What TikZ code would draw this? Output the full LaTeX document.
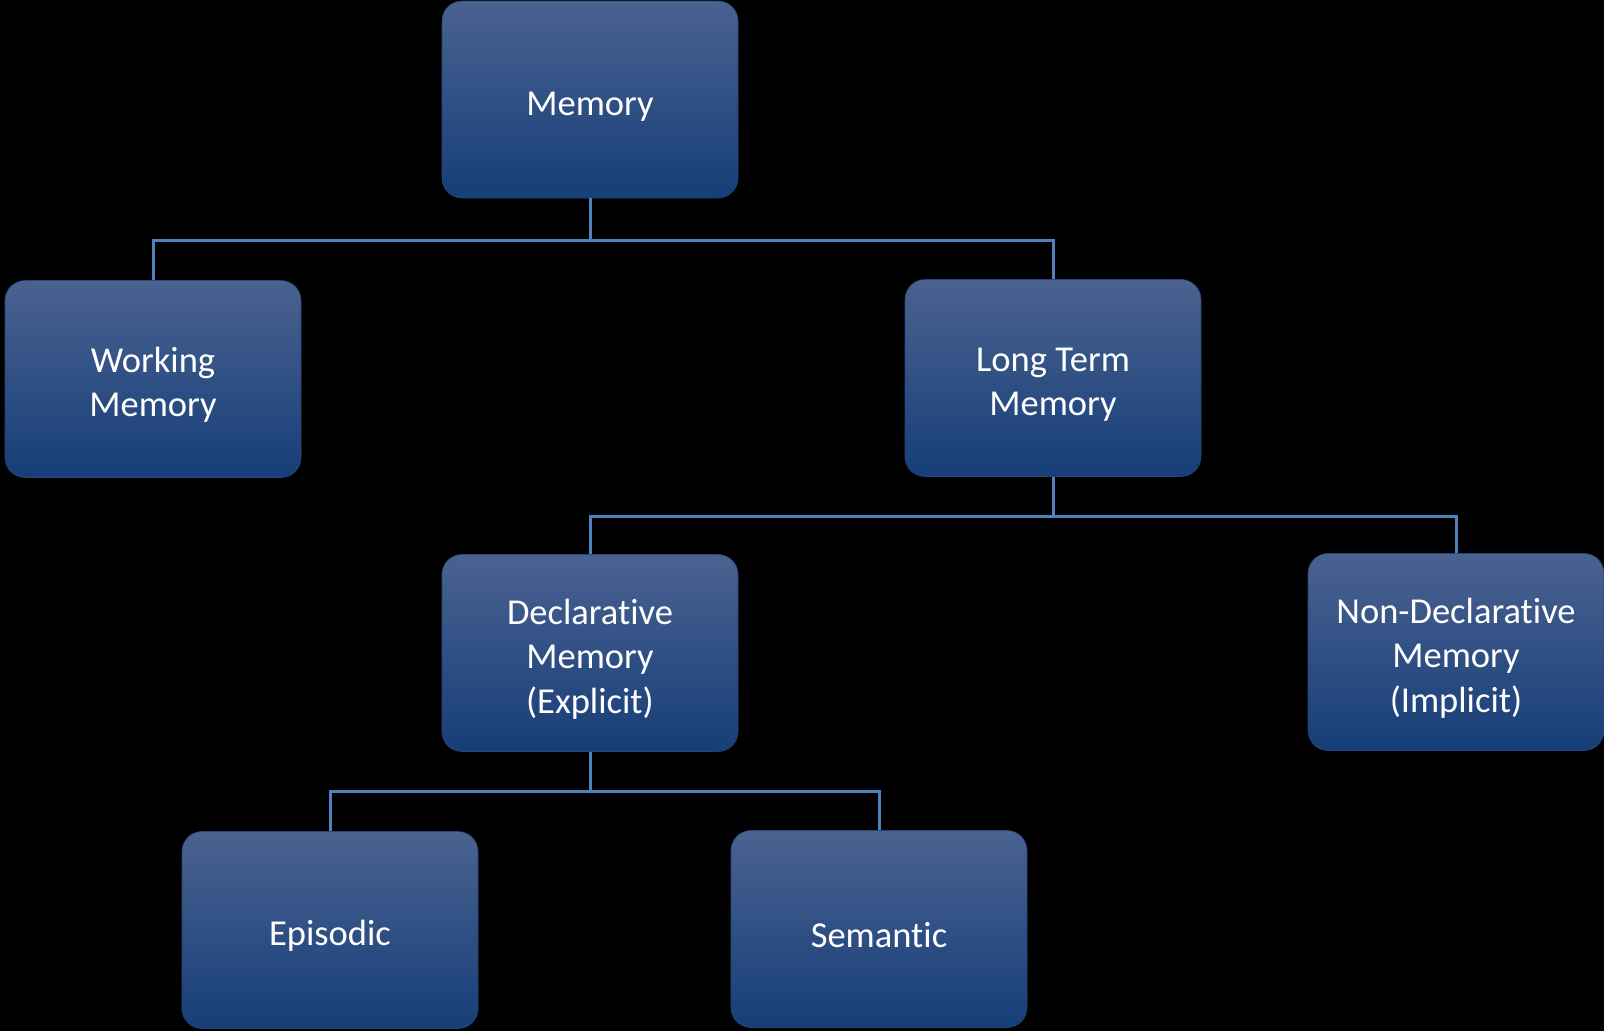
\documentclass[tikz,border=0pt]{standalone}
\usepackage{fontspec}
\setmainfont{Carlito}[Ligatures={NoCommon,NoContextual}]
\newcommand{\tup}{\rule{0pt}{37pt}}
\begin{document}
\begin{tikzpicture}[x=1pt,y=-1pt,
  box/.style={rectangle, rounded corners=20pt, minimum width=296pt, minimum height=197pt,
    align=center, text=white, font=\fontsize{36.5}{44.5}\selectfont,
    top color={rgb,255:red,74;green,98;blue,144},
    middle color={rgb,255:red,30;green,74;blue,136},
    bottom color={rgb,255:red,22;green,62;blue,120},
    draw={rgb,255:red,40;green,70;blue,120}, line width=0.6pt},
  conn/.style={draw={rgb,255:red,79;green,129;blue,189}, line width=3pt}]
\fill[black] (0,0) rectangle (1604,1031);
\useasboundingbox (0,0) rectangle (1604,1031);
\node[box] (mem) at (590,99.5) {\tup Memory};
\node[box] (wm) at (153,379) {\tup Working\\Memory};
\node[box] (ltm) at (1053,378) {\tup Long Term\\Memory};
\node[box] (decl) at (590,653) {\tup Declarative\\Memory\\(Explicit)};
\node[box] (nondecl) at (1456,652) {\tup Non-Declarative\\Memory\\(Implicit)};
\node[box] (epi) at (330,930) {\tup Episodic};
\node[box] (sem) at (879,929) {\tup Semantic};
\draw[conn] (mem.south) -- ++(0,42) -| (wm.north);
\draw[conn] (mem.south) -- ++(0,42) -| (ltm.north);
\draw[conn] (ltm.south) -- ++(0,40) -| (decl.north);
\draw[conn] (ltm.south) -- ++(0,40) -| (nondecl.north);
\draw[conn] (decl.south) -- ++(0,40) -| (epi.north);
\draw[conn] (decl.south) -- ++(0,40) -| (sem.north);
\end{tikzpicture}
\end{document}
